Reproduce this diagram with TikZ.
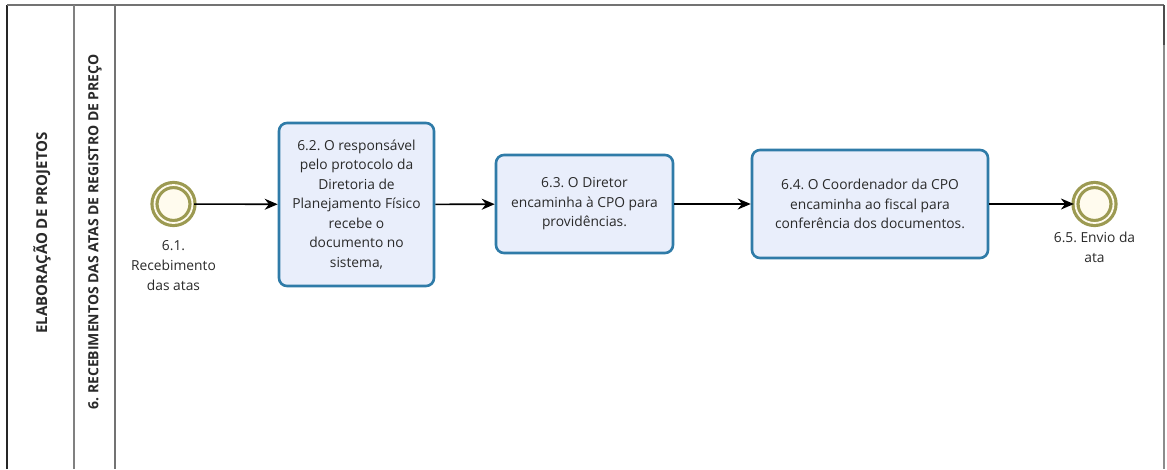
\documentclass[tikz,border=0pt]{standalone}
\usepackage{fontspec}
\setmainfont{Open Sans}
\frenchspacing
\usetikzlibrary{arrows.meta}
\definecolor{taskfill}{HTML}{E9EEFB}
\definecolor{taskline}{HTML}{2F7BA8}
\definecolor{evfill}{HTML}{FFFBEE}
\definecolor{evline}{HTML}{9C9A52}
\definecolor{txt}{HTML}{2A2A2A}
\tikzset{
  task/.style={draw=taskline, line width=2.6pt, fill=taskfill, rounded corners=8pt,
    align=center, inner sep=0pt, text=txt, font=\fontsize{13.8}{19.5}\selectfont},
  event/.style={circle, draw=evline, line width=3.2pt, fill=evfill, minimum size=38pt,
    inner sep=0pt, double=evfill, double distance=1.8pt},
  evlabel/.style={align=center, text=txt, font=\fontsize{13.8}{20}\selectfont, inner sep=0pt},
  flow/.style={-{Stealth[length=13pt,width=11pt]}, line width=1.6pt, black},
  lanetitle/.style={rotate=90, font=\bfseries\fontsize{14}{16}\selectfont, text=txt, inner sep=0pt},
}
\begin{document}
\begin{tikzpicture}[x=1pt,y=-1pt]
\useasboundingbox (0,0) rectangle (1167,469);
\fill[white] (0,0) rectangle (1167,469);

% pool and lane borders
\draw[line width=1.4pt, black!85] (7,469) -- (7,5);
\draw[line width=1.4pt, black!55] (7,5) -- (1164,5);
\draw[line width=1.4pt, black!70] (1164,5) -- (1164,45);
\draw[line width=1.4pt, black!45] (1164,45) -- (1164,469);
\draw[line width=1.2pt, black!50] (74,5) -- (74,469);
\draw[line width=1.2pt, black!55] (115,5) -- (115,469);

\node[lanetitle, font=\bfseries\fontsize{15}{17}\selectfont] (pool) at (42,233) {ELABORAÇÃO DE PROJETOS};
\node[lanetitle] (lane) at (95,232) {6. RECEBIMENTOS DAS ATAS DE REGISTRO DE PREÇO};

% events
\node[event] (e1) at (173.5,204) {};
\node[event] (e5) at (1094.5,204) {};
\node[evlabel, anchor=north] (l1) at (173.5,240) {6.1.\\Recebimento\\das atas};
\node[evlabel, anchor=north] (l5) at (1094.5,232) {6.5. Envio da\\ata};

% tasks
\node[task, minimum width=155pt, minimum height=163pt] (t2) at (356.5,204.5)
  {6.2. O responsável\\pelo protocolo da\\Diretoria de\\Planejamento Físico\\recebe o\\documento no\\sistema,};
\node[task, minimum width=177pt, minimum height=98pt] (t3) at (584.5,204)
  {6.3. O Diretor\\encaminha à CPO para\\providências.};
\node[task, minimum width=236pt, minimum height=108pt] (t4) at (870,204)
  {6.4. O Coordenador da CPO\\encaminha ao fiscal para\\conferência dos documentos.};

% sequence flows
\draw[flow] (e1) -- (t2);
\draw[flow] (t2) -- (t3);
\draw[flow] (t3) -- (t4);
\draw[flow] (t4) -- (e5);
\end{tikzpicture}
\end{document}
